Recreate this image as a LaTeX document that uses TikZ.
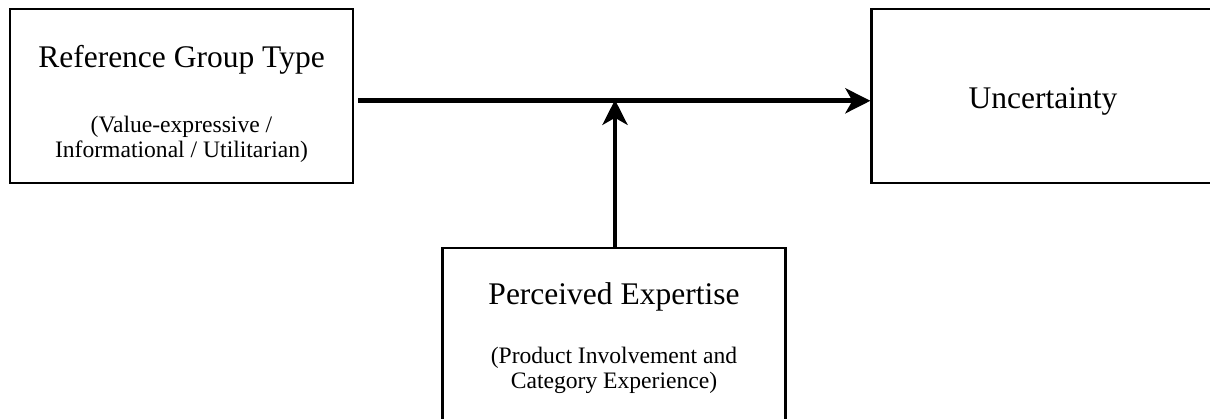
\documentclass[tikz,border=0pt]{standalone}
\usepackage{fontspec}
\setmainfont{Liberation Serif}
\usetikzlibrary{arrows.meta}
\begin{document}
\begin{tikzpicture}[x=1pt,y=-1pt,
  boxnode/.style={draw=black, line width=2.2pt, minimum width=343pt, minimum height=174pt, inner sep=0pt},
  titletext/.style={anchor=base, inner sep=0pt, font=\fontsize{31.5}{34}\selectfont},
  subtext/.style={anchor=base, inner sep=0pt, align=center, font=\fontsize{23.6}{24.6}\selectfont},
  flow/.style={line width=4.6pt, -{Stealth[length=25pt, width=25pt, inset=7pt]}}]
  \useasboundingbox (0,0) rectangle (1210,419);
  \clip (0,0) rectangle (1210,419);
  % boxes
  \node[boxnode] (group) at (181.5,96) {};
  \node[boxnode] (unc) at (1043,96) {};
  \node[boxnode] (exp) at (614,335) {};
  % labels (two-line notes sit on the baseline of their last line)
  \node[titletext] (grouptitle) at (181.5,68) {Reference Group Type};
  \node[subtext] (groupsub) at (181.5,157.3) {(Value-expressive /\\Informational / Utilitarian)};
  \node[titletext] (unctitle) at (1043,108.3) {Uncertainty};
  \node[titletext] (exptitle) at (614,305) {Perceived Expertise};
  \node[subtext] (expsub) at (614,388.3) {(Product Involvement and\\Category Experience)};
  % connectors
  \coordinate (j) at (615,100.8);
  \draw[flow, shorten <=4pt] (group.east |- j) -- (unc.west |- j);
  \draw[flow] (exp.north -| j) -- ([yshift=1pt]j);
\end{tikzpicture}
\end{document}
